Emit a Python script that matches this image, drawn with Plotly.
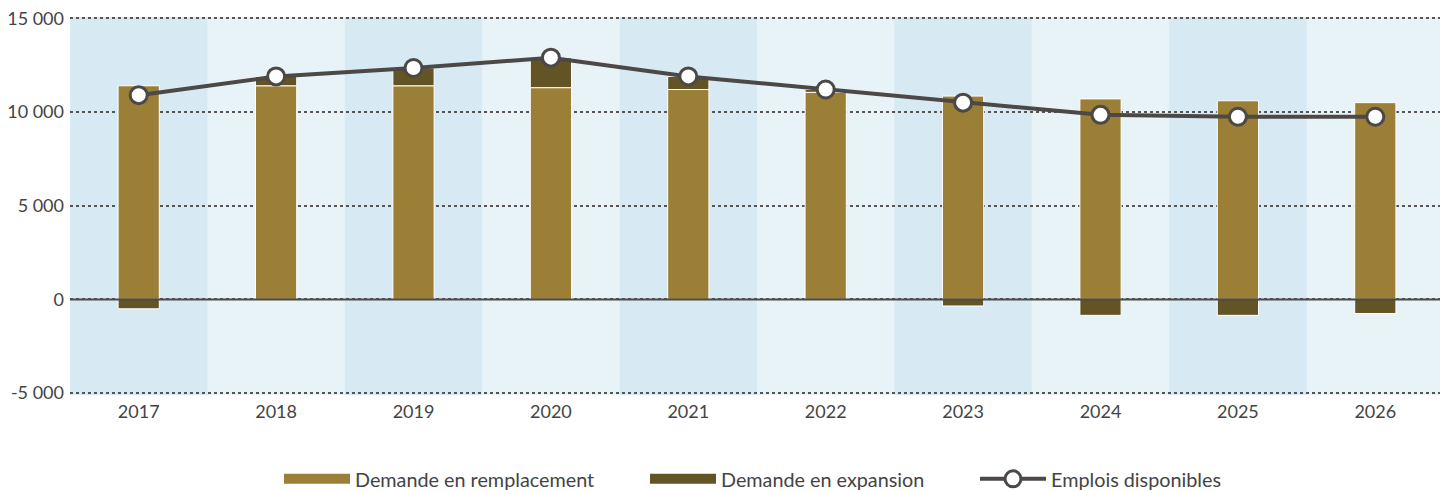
import plotly.graph_objects as go

years = ["2017", "2018", "2019", "2020", "2021", "2022", "2023", "2024", "2025", "2026"]
replacement = [11400, 11400, 11400, 11300, 11200, 11050, 10850, 10700, 10600, 10500]
expansion = [-500, 500, 950, 1600, 700, 150, -350, -850, -850, -750]
available = [10900, 11900, 12350, 12900, 11900, 11200, 10500, 9850, 9750, 9750]
ytick_vals = [-5000, 0, 5000, 10000, 15000]
ytick_text = ["-5 000", "0", "5 000", "10 000", "15 000"]
legend_names = ["Demande en remplacement", "Demande en expansion", "Emplois disponibles"]

FONT = "Lato"
C_REP = "#9b7f37"
C_EXP = "#635425"
C_LINE = "#4b4846"
TXT = "#444444"

fig = go.Figure()
fig.add_trace(go.Bar(x=years, y=replacement, name=legend_names[0], showlegend=False,
                     marker=dict(color=C_REP, line=dict(color="white", width=1)), width=0.3))
fig.add_trace(go.Bar(x=years, y=expansion, name=legend_names[1], showlegend=False,
                     marker=dict(color=C_EXP, line=dict(color="white", width=1)), width=0.3))
fig.add_trace(go.Scatter(x=years, y=available, name=legend_names[2], mode="lines+markers",
                         legend="legend3",
                         line=dict(color=C_LINE, width=4),
                         marker=dict(size=17, color="white", line=dict(color=C_LINE, width=3))))
# legend-only swatches for the bar series (wide rectangles as in the reference)
fig.add_trace(go.Scatter(x=[None], y=[None], mode="lines", name=legend_names[0], legend="legend",
                         line=dict(color=C_REP, width=16), hoverinfo="skip"))
fig.add_trace(go.Scatter(x=[None], y=[None], mode="lines", name=legend_names[1], legend="legend2",
                         line=dict(color=C_EXP, width=16), hoverinfo="skip"))

shapes = []
for i in range(len(years)):
    if i % 2 == 0:
        shapes.append(dict(type="rect", xref="x", yref="paper", x0=i - 0.5, x1=i + 0.5, y0=0, y1=1,
                           fillcolor="#d7eaf3", line=dict(width=0), layer="below"))
shapes.append(dict(type="line", xref="paper", yref="y", x0=0, x1=1, y0=0, y1=0,
                   line=dict(color="#4a4a4a", width=2), layer="above"))

W, H = 1448, 530
L, R = 62, 12
T, B = 9, 143
PW = W - L - R
PH = H - T - B


def lx(px):
    return (px - L) / PW


def ly(py):
    return (H - B - py) / PH


leg_common = dict(orientation="h", yanchor="middle", xanchor="left", itemwidth=66,
                  font=dict(family=FONT, size=19.8, color=TXT), bgcolor="rgba(0,0,0,0)")

fig.update_layout(
    width=W, height=H,
    barmode="relative",
    margin=dict(l=L, r=R, t=T, b=B),
    paper_bgcolor="white",
    plot_bgcolor="#e8f3f8",
    shapes=shapes,
    font=dict(family=FONT, size=18, color=TXT),
    showlegend=True,
    legend=dict(x=lx(271), y=ly(471), **leg_common),
    legend2=dict(x=lx(637), y=ly(471), **leg_common),
    legend3=dict(x=lx(967), y=ly(471), **leg_common),
    xaxis=dict(type="category", range=[-0.5, 9.5], showgrid=False, ticks="", automargin=False,
               tickfont=dict(family=FONT, size=18, color=TXT), showline=False, ticklabelstandoff=4),
    yaxis=dict(range=[-5100, 15070], tickvals=ytick_vals, ticktext=ytick_text, automargin=False,
               showgrid=True, gridcolor="#555", griddash="dot", gridwidth=1.5,
               zeroline=False, ticklabeloverflow="allow",
               tickfont=dict(family=FONT, size=18, color=TXT), ticks="", ticklabelstandoff=5),
)

fig.write_html("out.html")
